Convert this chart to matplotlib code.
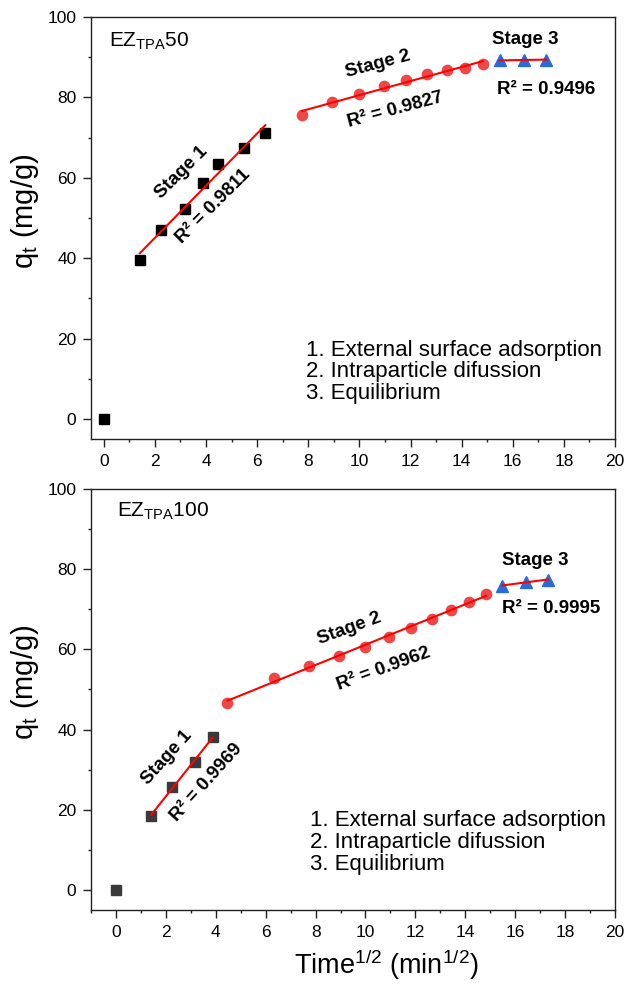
import numpy as np
import matplotlib
matplotlib.use("Agg")
import matplotlib.pyplot as plt
from matplotlib.ticker import MultipleLocator

plt.rcParams["font.family"] = ["Liberation Sans", "DejaVu Sans"]
plt.rcParams["mathtext.default"] = "regular"

# ---- EZ_TPA50 ----
a_origin_x = [0.0]
a_origin_y = [0.0]
a_s1_x = [1.41, 2.24, 3.16, 3.87, 4.47, 5.48, 6.32]
a_s1_y = [39.5, 47.0, 52.3, 58.6, 63.5, 67.4, 71.1]
a_s2_x = [7.75, 8.94, 10.00, 10.95, 11.83, 12.65, 13.42, 14.14, 14.83]
a_s2_y = [75.6, 78.8, 80.9, 82.8, 84.3, 85.7, 86.7, 87.3, 88.3]
a_s3_x = [15.49, 16.43, 17.32]
a_s3_y = [89.2, 89.3, 89.4]
a_r2 = ["0.9811", "0.9827", "0.9496"]

# ---- EZ_TPA100 ----
b_origin_x = [0.0]
b_origin_y = [0.0]
b_s1_x = [1.41, 2.24, 3.16, 3.87]
b_s1_y = [18.5, 25.7, 32.0, 38.1]
b_s2_x = [4.47, 6.32, 7.75, 8.94, 10.00, 10.95, 11.83, 12.65, 13.42, 14.14, 14.83]
b_s2_y = [46.7, 52.9, 55.9, 58.3, 60.7, 63.1, 65.3, 67.7, 69.8, 71.8, 73.9]
b_s3_x = [15.49, 16.43, 17.32]
b_s3_y = [75.9, 76.8, 77.4]
b_r2 = ["0.9969", "0.9962", "0.9995"]

stage_notes = ["1. External surface adsorption",
               "2. Intraparticle difussion",
               "3. Equilibrium"]

RED_PT = "#EF4646"
RED_LN = "#FF0000"
BLUE = "#2A6BD8"

W, H = 626, 984
fig = plt.figure(figsize=(W / 100, H / 100), dpi=100)
ax1 = fig.add_axes([91 / W, 1 - 439 / H, 524 / W, 422 / H])
ax2 = fig.add_axes([91 / W, 1 - 910 / H, 524 / W, 421 / H])


def fit_line(ax, x, y):
    x = np.asarray(x)
    k, b = np.polyfit(x, y, 1)
    xx = np.array([x.min(), x.max()])
    ax.plot(xx, k * xx + b, color=RED_LN, lw=1.5, zorder=4)


def style(ax, xmin):
    ax.set_xlim(xmin, 20)
    ax.set_ylim(-5, 100)
    ax.xaxis.set_major_locator(MultipleLocator(2))
    ax.xaxis.set_minor_locator(MultipleLocator(1))
    ax.yaxis.set_major_locator(MultipleLocator(20))
    ax.yaxis.set_minor_locator(MultipleLocator(10))
    ax.tick_params(which="both", direction="out", top=False, right=False,
                   width=1.0, colors="#222222", labelcolor="black")
    ax.tick_params(which="major", length=5.5, pad=5, labelsize=12.5)
    ax.tick_params(which="minor", length=2.5)
    for s in ax.spines.values():
        s.set_linewidth(1.0)
        s.set_color("#222222")
    ax.text(-0.126, 0.54, "q$_t$ (mg/g)", transform=ax.transAxes,
            rotation=90, ha="center", va="center", fontsize=21)


def panel(ax, ox, oy, s1x, s1y, s2x, s2y, s3x, s3y, sq_color):
    ax.plot(ox, oy, "s", color=sq_color, ms=6.7, zorder=3)
    ax.plot(s1x, s1y, "s", color=sq_color, ms=6.7, zorder=3, lw=0)
    ax.plot(s2x, s2y, "o", color=RED_PT, ms=7.4, zorder=3, lw=0)
    ax.plot(s3x, s3y, "^", color=BLUE, ms=9, zorder=3, lw=0)
    fit_line(ax, s1x, s1y)
    fit_line(ax, s2x, s2y)
    fit_line(ax, s3x, s3y)


bold = dict(fontsize=13.5, fontweight="bold", ha="center", va="center",
            rotation_mode="anchor")

# top panel
style(ax1, -0.5)
panel(ax1, a_origin_x, a_origin_y, a_s1_x, a_s1_y, a_s2_x, a_s2_y,
      a_s3_x, a_s3_y, "black")
ax1.text(0.034, 0.93, "EZ$_{TPA}$50", transform=ax1.transAxes,
         fontsize=15, va="baseline")
ax1.text(3.03, 61.3, "Stage 1", rotation=45, **bold)
ax1.text(4.30, 52.8, "R² = " + a_r2[0], rotation=45, **bold)
ax1.text(10.71, 88.3, "Stage 2", rotation=15, **bold)
ax1.text(11.42, 76.8, "R² = " + a_r2[1], rotation=15, **bold)
ax1.text(16.48, 94.5, "Stage 3", **bold)
ax1.text(17.30, 82.0, "R² = " + a_r2[2], **bold)
for i, line in enumerate(stage_notes):
    ax1.text(0.41, 0.197 - i * 0.051, line, transform=ax1.transAxes,
             fontsize=16, va="baseline")

# bottom panel
style(ax2, -1)
panel(ax2, b_origin_x, b_origin_y, b_s1_x, b_s1_y, b_s2_x, b_s2_y,
      b_s3_x, b_s3_y, "#3A3A3A")
ax2.text(0.05, 0.934, "EZ$_{TPA}$100", transform=ax2.transAxes,
         fontsize=15, va="baseline")
ax2.text(2.05, 32.9, "Stage 1", rotation=48, **bold)
ax2.text(3.62, 26.8, "R² = " + b_r2[0], rotation=48, **bold)
ax2.text(9.37, 65.2, "Stage 2", rotation=20, **bold)
ax2.text(10.72, 55.2, "R² = " + b_r2[1], rotation=20, **bold)
ax2.text(16.80, 82.1, "Stage 3", **bold)
ax2.text(17.44, 70.3, "R² = " + b_r2[2], **bold)
for i, line in enumerate(stage_notes):
    ax2.text(0.418, 0.1995 - i * 0.052, line, transform=ax2.transAxes,
             fontsize=16, va="baseline")

fig.text(386.5 / W, 1 - 974 / H, "Time$^{1/2}$ (min$^{1/2}$)",
         ha="center", va="baseline", fontsize=19.5)

fig.savefig("out.png", dpi=100)
